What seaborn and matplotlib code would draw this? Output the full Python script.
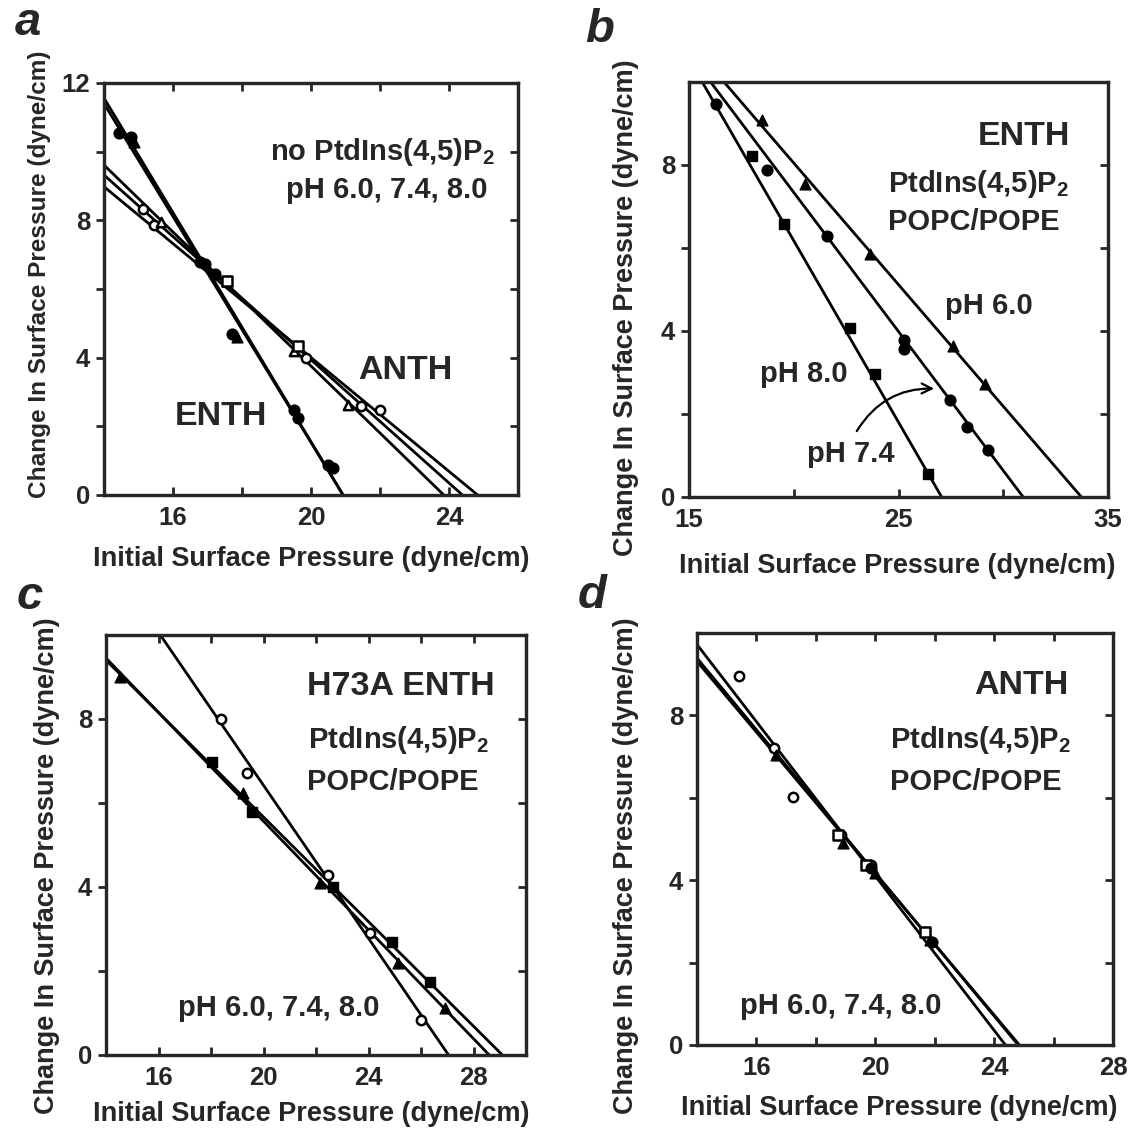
import numpy as np
import pandas as pd
import seaborn as sns
import matplotlib.pyplot as plt

# ---------------- data ----------------
# panel a : no PtdIns(4,5)P2, ENTH (steep) and ANTH (shallow)
a_fill_circ_x = [14.44, 14.78, 16.78, 16.93, 17.22, 17.71, 19.51, 19.61, 20.49, 20.63]
a_fill_circ_y = [10.54, 10.44, 6.78, 6.72, 6.44, 4.68, 2.49, 2.24, 0.88, 0.78]
a_fill_tri_x = [14.88, 17.56, 17.85]
a_fill_tri_y = [10.29, 6.22, 4.59]
a_open_circ_x = [15.12, 15.46, 19.85, 21.46, 21.99]
a_open_circ_y = [8.34, 7.85, 4.00, 2.59, 2.49]
a_open_tri_x = [15.66, 19.51, 21.07]
a_open_tri_y = [7.95, 4.20, 2.63]
a_open_sq_x = [17.56, 19.61]
a_open_sq_y = [6.24, 4.34]
a_fit_x0 = [14, 14, 14, 14, 14]
a_fit_y0 = [11.56, 11.40, 9.61, 9.32, 8.98]
a_fit_x1 = [20.93, 20.93, 23.85, 24.39, 24.83]

# panel b : ENTH, PtdIns(4,5)P2 POPC/POPE, pH 6.0 / 7.4 / 8.0
b_ph60_x = [18.49, 20.56, 23.65, 27.62, 29.13]
b_ph60_y = [9.08, 7.55, 5.86, 3.65, 2.73]
b_ph74_x = [16.27, 18.73, 21.59, 25.24, 25.24, 27.46, 28.25, 29.29]
b_ph74_y = [9.48, 7.89, 6.28, 3.79, 3.57, 2.33, 1.69, 1.14]
b_ph80_x = [18.02, 19.52, 22.70, 23.89, 26.43]
b_ph80_y = [8.21, 6.59, 4.08, 2.97, 0.56]
b_fit_x0 = [16.67, 16.03, 15.63]
b_fit_y0 = [10, 10, 10]
b_fit_x1 = [33.73, 30.95, 27.06]

# panel c : H73A ENTH
c_tri_x = [14.54, 19.20, 22.14, 25.14, 26.92]
c_tri_y = [9.01, 6.23, 4.09, 2.18, 1.11]
c_sq_x = [18.05, 19.58, 22.65, 24.88, 26.35]
c_sq_y = [6.98, 5.79, 4.01, 2.70, 1.75]
c_open_x = [18.37, 19.36, 22.45, 24.05, 26.00]
c_open_y = [7.99, 6.71, 4.29, 2.90, 0.83]
c_fit_x0 = [16.07, 14, 14]
c_fit_y0 = [10, 9.45, 9.40]
c_fit_x1 = [27.05, 28.60, 29.10]

# panel d : ANTH
d_open_circ_x = [15.41, 16.60, 17.22, 18.83, 19.87]
d_open_circ_y = [8.95, 7.21, 6.01, 5.10, 4.37]
d_tri_x = [16.65, 18.91, 19.98, 21.84]
d_tri_y = [7.04, 4.90, 4.17, 2.55]
d_open_sq_x = [18.74, 19.70, 21.67]
d_open_sq_y = [5.10, 4.37, 2.75]
d_fill_circ_x = [19.87, 21.90]
d_fill_circ_y = [4.29, 2.51]
d_fit_x0 = [14, 14, 14]
d_fit_y0 = [9.72, 9.39, 9.31]
d_fit_x1 = [24.38, 24.81, 24.85]

# ---------------- style ----------------
sns.set_style("ticks")
plt.rcParams['font.family'] = ['Liberation Sans', 'DejaVu Sans']
plt.rcParams['font.weight'] = 'bold'
plt.rcParams['mathtext.fontset'] = 'custom'
plt.rcParams['mathtext.rm'] = 'Liberation Sans:bold'
plt.rcParams['mathtext.it'] = 'Liberation Sans:bold'
plt.rcParams['mathtext.bf'] = 'Liberation Sans:bold'

W = 1129
fig = plt.figure(figsize=(11.29, 11.29), dpi=100)


def fx(px):
    return px / W


def fy(py):
    return 1 - py / W


def put_text(x, y, s, size, ha='left'):
    # y is the visual centre of the capitals, in pixels from the top
    fig.text(fx(x), fy(y + 0.36 * size * 100 / 72), s, fontsize=size,
             fontweight='bold', ha=ha, va='baseline')


def fits(x0, y0, x1):
    rows = []
    for i in range(len(x0)):
        rows.append({'fit': i, 'x': x0[i], 'y': y0[i]})
        rows.append({'fit': i, 'x': x1[i], 'y': 0.0})
    return pd.DataFrame(rows)


def draw_fits(ax, x0, y0, x1):
    sns.lineplot(data=fits(x0, y0, x1), x='x', y='y', units='fit',
                 estimator=None, sort=False, color='black', lw=2.0, ax=ax)


def pts(ax, x, y, marker, filled=True, s=60):
    if filled:
        sns.scatterplot(x=x, y=y, marker=marker, s=s, color='black',
                        edgecolor='black', linewidth=1.0, ax=ax, zorder=3)
    else:
        sns.scatterplot(x=x, y=y, marker=marker, s=s * 0.75, color='white',
                        edgecolor='black', linewidth=1.8, ax=ax, zorder=3)


def frame(ax, xlim, xmaj, xmin, ylim, ymaj, ymin, top=True):
    ax.set_xlim(*xlim)
    ax.set_ylim(*ylim)
    ax.set_xticks(xmaj)
    ax.set_xticks(xmin, minor=True)
    ax.set_yticks(ymaj)
    ax.set_yticks(ymin, minor=True)
    ax.set_xlabel('')
    ax.set_ylabel('')
    ax.tick_params(axis='x', which='both', direction='in', length=6, width=2,
                   top=top, labelsize=18.5, pad=8)
    ax.tick_params(axis='y', which='both', direction='out', length=6, width=2,
                   labelsize=18.5, pad=4)
    for lab in ax.get_xticklabels() + ax.get_yticklabels():
        lab.set_fontweight('bold')
    for sp in ax.spines.values():
        sp.set_visible(True)
        sp.set_linewidth(2.3)
    ax2 = ax.twinx()
    ax2.set_ylim(*ylim)
    ax2.set_yticks(ymaj)
    ax2.set_yticks(ymin, minor=True)
    ax2.tick_params(axis='y', which='both', direction='in', length=6, width=2,
                    labelright=False)
    for sp in ax2.spines.values():
        sp.set_linewidth(2.3)


def make_axes(left, top, right, bottom):
    return fig.add_axes([fx(left), fy(bottom), (right - left) / W, (bottom - top) / W])


# ---------------- panel a ----------------
ax = make_axes(104, 83, 518, 495)
draw_fits(ax, a_fit_x0, a_fit_y0, a_fit_x1)
pts(ax, a_fill_circ_x, a_fill_circ_y, 'o')
pts(ax, a_fill_tri_x, a_fill_tri_y, '^')
pts(ax, a_open_circ_x, a_open_circ_y, 'o', filled=False)
pts(ax, a_open_tri_x, a_open_tri_y, '^', filled=False)
pts(ax, a_open_sq_x, a_open_sq_y, 's', filled=False)
frame(ax, (14, 26), [16, 20, 24], [18, 22, 26], (0, 12), [0, 4, 8, 12], [2, 6, 10])
put_text(495, 150, 'no PtdIns(4,5)P$_2$', 21, ha='right')
put_text(488, 187, 'pH 6.0, 7.4, 8.0', 21, ha='right')
put_text(405, 367, 'ANTH', 24.5, ha='center')
put_text(221, 413, 'ENTH', 24.5, ha='center')

# ---------------- panel b ----------------
ax = make_axes(689, 82, 1108, 497)
draw_fits(ax, b_fit_x0, b_fit_y0, b_fit_x1)
pts(ax, b_ph60_x, b_ph60_y, '^')
pts(ax, b_ph74_x, b_ph74_y, 'o')
pts(ax, b_ph80_x, b_ph80_y, 's', s=50)
frame(ax, (15, 35), [15, 25, 35], [20, 30], (0, 10), [0, 4, 8], [2, 6], top=False)
ax.annotate('', xy=(26.83, 2.61), xytext=(22.94, 1.53),
            arrowprops=dict(arrowstyle='->', color='black', lw=1.6,
                            mutation_scale=18,
                            connectionstyle='arc3,rad=-0.3'))
put_text(1070, 133, 'ENTH', 24.5, ha='right')
put_text(888, 181, 'PtdIns(4,5)P$_2$', 21)
put_text(888, 220, 'POPC/POPE', 21)
put_text(945, 303, 'pH 6.0', 21)
put_text(760, 372, 'pH 8.0', 21)
put_text(807, 452, 'pH 7.4', 21)

# ---------------- panel c ----------------
ax = make_axes(106, 635, 526, 1055)
draw_fits(ax, c_fit_x0, c_fit_y0, c_fit_x1)
pts(ax, c_tri_x, c_tri_y, '^')
pts(ax, c_sq_x, c_sq_y, 's', s=50)
pts(ax, c_open_x, c_open_y, 'o', filled=False)
frame(ax, (14, 30), [16, 20, 24, 28], [18, 22, 26], (0, 10), [0, 4, 8], [2, 6])
put_text(495, 683, 'H73A ENTH', 24.5, ha='right')
put_text(308, 738, 'PtdIns(4,5)P$_2$', 21)
put_text(307, 779, 'POPC/POPE', 21)
put_text(178, 1005, 'pH 6.0, 7.4, 8.0', 21)

# ---------------- panel d ----------------
ax = make_axes(697, 633, 1113, 1045)
draw_fits(ax, d_fit_x0, d_fit_y0, d_fit_x1)
pts(ax, d_open_circ_x, d_open_circ_y, 'o', filled=False)
pts(ax, d_tri_x, d_tri_y, '^')
pts(ax, d_open_sq_x, d_open_sq_y, 's', filled=False)
pts(ax, d_fill_circ_x, d_fill_circ_y, 'o')
frame(ax, (14, 28), [16, 20, 24, 28], [18, 22, 26], (0, 10), [0, 4, 8], [2, 6])
put_text(1068, 682, 'ANTH', 24.5, ha='right')
put_text(890, 738, 'PtdIns(4,5)P$_2$', 21)
put_text(890, 779, 'POPC/POPE', 21)
put_text(740, 1003, 'pH 6.0, 7.4, 8.0', 21)

# ---------------- axis titles and panel letters ----------------
xlab = 'Initial Surface Pressure (dyne/cm)'
ylab = 'Change In Surface Pressure (dyne/cm)'
for (x, y) in [(311, 559), (897, 566), (311, 1114), (899, 1108)]:
    fig.text(fx(x), fy(y), xlab, fontsize=19.5, fontweight='bold', ha='center', va='center')
for (x, y, sz) in [(40, 274, 17.6), (626, 308, 19.5), (47, 866, 19.5), (626, 866, 19.5)]:
    fig.text(fx(x), fy(y), ylab, fontsize=sz, fontweight='bold', ha='center',
             va='center', rotation=90)
for (x, y, s) in [(28, 23, 'a'), (600, 30, 'b'), (30, 597, 'c'), (592, 596, 'd')]:
    fig.text(fx(x), fy(y), s, fontsize=34, fontweight='bold', fontstyle='italic',
             ha='center', va='center')

fig.savefig('out.png', dpi=100)
